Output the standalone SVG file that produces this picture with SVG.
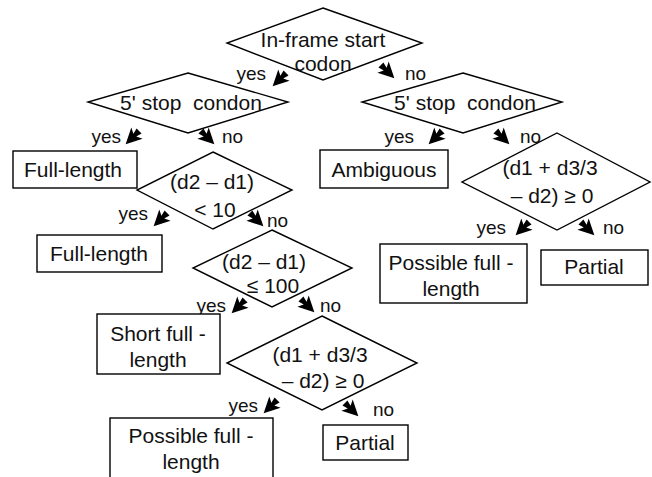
<svg xmlns="http://www.w3.org/2000/svg" xmlns:xlink="http://www.w3.org/1999/xlink" width="652" height="477" viewBox="0 0 652 477">
<style>
.shape{fill:#fff;stroke:#000;stroke-width:1.4}
.t{font-family:"Liberation Sans",Arial,sans-serif;font-size:21px;fill:#111;text-anchor:middle;white-space:pre}
.l{font-family:"Liberation Sans",Arial,sans-serif;font-size:19px;fill:#111}
.e{text-anchor:end}
.arr{fill:#000}
</style>
<defs>
<path id="ah" class="arr" d="M9,0 L-7,-8 L-4,-2 L-10,-3.5 L-10,3.5 L-4,2 L-7,8 Z"/>
</defs>
<rect width="652" height="477" fill="#fff"/>
<g id="connectors">
<use xlink:href="#ah" transform="translate(279,80) rotate(135)"/>
<use xlink:href="#ah" transform="translate(388,72) rotate(45)"/>
<use xlink:href="#ah" transform="translate(132,138) rotate(135)"/>
<use xlink:href="#ah" transform="translate(208,138) rotate(45)"/>
<use xlink:href="#ah" transform="translate(435,138) rotate(135)"/>
<use xlink:href="#ah" transform="translate(503,138) rotate(45)"/>
<use xlink:href="#ah" transform="translate(160,220) rotate(135)"/>
<use xlink:href="#ah" transform="translate(257,220) rotate(45)"/>
<use xlink:href="#ah" transform="translate(238,307) rotate(135)"/>
<use xlink:href="#ah" transform="translate(308,306) rotate(45)"/>
<use xlink:href="#ah" transform="translate(522,229) rotate(135)"/>
<use xlink:href="#ah" transform="translate(588,229) rotate(45)"/>
<use xlink:href="#ah" transform="translate(270,407) rotate(135)"/>
<use xlink:href="#ah" transform="translate(352,410) rotate(45)"/>
<text class="l e" x="266" y="80">yes</text>
<text class="l" x="405" y="80">no</text>
<text class="l e" x="121" y="143">yes</text>
<text class="l" x="222" y="143">no</text>
<text class="l e" x="414" y="143">yes</text>
<text class="l" x="520" y="143">no</text>
<text class="l e" x="148" y="220">yes</text>
<text class="l" x="267" y="227">no</text>
<text class="l e" x="226" y="312">yes</text>
<text class="l" x="320" y="312">no</text>
<text class="l e" x="506" y="234">yes</text>
<text class="l" x="603" y="234">no</text>
<text class="l e" x="258" y="412">yes</text>
<text class="l" x="373" y="416">no</text>
</g>
<g id="n1"><polygon class="shape" points="323,8 422,43 323,80 227,43"/><text class="t" x="323" y="47">In-frame start</text><text class="t" x="323" y="71">codon</text></g>
<g id="n2"><polygon class="shape" points="188,73 288,102 188,133 88,102"/><text class="t" x="191" y="110">5' stop  condon</text></g>
<g id="n3"><polygon class="shape" points="463,73 562,102 463,133 362,102"/><text class="t" x="465" y="110">5' stop  condon</text></g>
<g id="n4"><rect class="shape" x="13" y="151" width="124" height="37"/><text class="t" x="73" y="177">Full-length</text></g>
<g id="n5"><rect class="shape" x="320" y="150" width="128" height="38"/><text class="t" x="384" y="177">Ambiguous</text></g>
<g id="n6"><polygon class="shape" points="213,152 292,190 213,229 137,190"/><text class="t" x="212" y="189">(d2 – d1)</text><text class="t" x="215" y="217">&lt; 10</text></g>
<g id="n7"><polygon class="shape" points="557,133 650,182 557,230 462,182"/><text class="t" x="550" y="175">(d1 + d3/3</text><text class="t" x="552" y="203">– d2) ≥ 0</text></g>
<g id="n8"><rect class="shape" x="37" y="235" width="125" height="37"/><text class="t" x="99" y="261">Full-length</text></g>
<g id="n9"><polygon class="shape" points="272,230 352,268 272,307 193,268"/><text class="t" x="264" y="269">(d2 – d1)</text><text class="t" x="273" y="293">≤ 100</text></g>
<g id="n10"><rect class="shape" x="380" y="244" width="147" height="59"/><text class="t" x="451" y="270">Possible full -</text><text class="t" x="451" y="296">length</text></g>
<g id="n11"><rect class="shape" x="541" y="250" width="107" height="35"/><text class="t" x="594" y="274">Partial</text></g>
<g id="n12"><rect class="shape" x="97" y="314" width="123" height="60"/><text class="t" x="158" y="341">Short full -</text><text class="t" x="158" y="367">length</text></g>
<g id="n13"><polygon class="shape" points="322,316 417,363 322,410 227,363"/><text class="t" x="320" y="362">(d1 + d3/3</text><text class="t" x="323" y="388">– d2) ≥ 0</text></g>
<g id="n14"><rect class="shape" x="110" y="418" width="163" height="62"/><text class="t" x="191" y="443">Possible full -</text><text class="t" x="191" y="469">length</text></g>
<g id="n15"><rect class="shape" x="323" y="425" width="85" height="35"/><text class="t" x="365" y="450">Partial</text></g>
</svg>
